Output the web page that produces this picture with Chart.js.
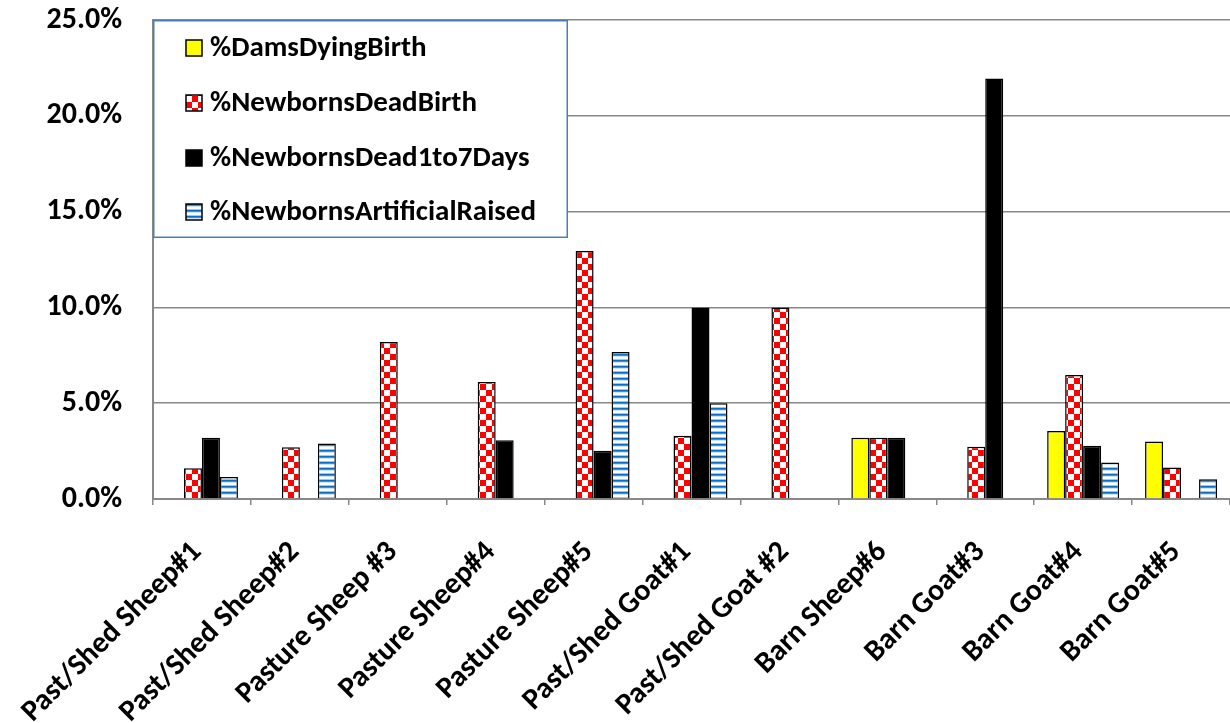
<!DOCTYPE html>
<html><head><meta charset="utf-8">
<script src="https://cdn.jsdelivr.net/npm/chart.js@4.4.1/dist/chart.umd.min.js"></script>
<style>html,body{margin:0;padding:0;background:#fff}#wrap{width:1230px;height:723px}</style>
</head><body><div id="wrap"><canvas id="c" width="1230" height="723"></canvas></div>
<script>
const categories = ["Past/Shed Sheep#1","Past/Shed Sheep#2","Pasture Sheep #3","Pasture Sheep#4","Pasture Sheep#5","Past/Shed Goat#1","Past/Shed Goat #2","Barn Sheep#6","Barn Goat#3","Barn Goat#4","Barn Goat#5"];
const seriesNames = ["%DamsDyingBirth","%NewbornsDeadBirth","%NewbornsDead1to7Days","%NewbornsArtificialRaised"];
const damsDyingBirth = [null,null,null,null,null,null,null,3.2,null,3.55,3.0];
const newbornsDeadBirth = [1.6,2.7,8.2,6.1,12.95,3.3,10.0,3.2,2.73,6.47,1.65];
const newbornsDead1to7Days = [3.2,null,null,3.07,2.52,10.0,null,3.2,21.95,2.78,null];
const newbornsArtificialRaised = [1.15,2.9,null,null,7.67,5.0,null,null,null,1.9,1.03];
const yTicks = [0,5,10,15,20,25];

const FONT = "Carlito, Lato, 'Open Sans', sans-serif";

function checker(){
  const c=document.createElement('canvas');c.width=12;c.height=12;
  const x=c.getContext('2d');x.fillStyle='#fff';x.fillRect(0,0,12,12);
  x.fillStyle='#ff0000';x.fillRect(0,0,6,6);x.fillRect(6,6,6,6);
  return x.createPattern(c,'repeat');
}
function stripes(){
  const c=document.createElement('canvas');c.width=6;c.height=6;
  const x=c.getContext('2d');
  const rows=['#0a6fc2','#3f8fd2','#cfe3f4','#ffffff','#ffffff','#9cc6ea'];
  rows.forEach((col,i)=>{x.fillStyle=col;x.fillRect(0,i,6,1);});
  return x.createPattern(c,'repeat');
}
const fills=['#ffff00',checker(),'#000000',stripes()];

const legendBox={
  id:'legendBox',
  afterDraw(chart){
    const ctx=chart.ctx;ctx.save();
    const x0=153,y0=20,w=415,h=218;
    ctx.fillStyle='#fff';ctx.fillRect(x0,y0,w,h);
    ctx.strokeStyle='#4a7ebb';ctx.lineWidth=1.5;ctx.strokeRect(x0+0.75,y0+0.75,w-1.5,h-1.5);
    const rows=[48,103,158,212];
    chart.data.datasets.forEach((ds,i)=>{
      const cy=rows[i];
      ctx.fillStyle=ds.backgroundColor;
      ctx.fillRect(186,cy-8,16,16);
      ctx.strokeStyle='#000';ctx.lineWidth=1.5;ctx.strokeRect(186,cy-8,16,16);
      ctx.fillStyle='#000';ctx.font="bold 29px "+FONT;ctx.textBaseline='middle';ctx.textAlign='left';
      ctx.fillText(ds.label,210,cy+1);
    });
    ctx.restore();
  }
};

const datasets=[damsDyingBirth,newbornsDeadBirth,newbornsDead1to7Days,newbornsArtificialRaised].map((d,i)=>({
  label:seriesNames[i],data:d,backgroundColor:fills[i],borderColor:'#000',borderWidth:1.5,
  categoryPercentage:0.735,barPercentage:1.0
}));

new Chart(document.getElementById('c'),{
  type:'bar',
  data:{labels:categories,datasets},
  options:{
    responsive:false,animation:false,
    layout:{padding:{top:20,right:0,left:0,bottom:0}},
    plugins:{legend:{display:false},tooltip:{enabled:false}},
    scales:{
      x:{
        grid:{display:true,drawOnChartArea:false,drawTicks:true,tickLength:6,offset:true,color:'#888',lineWidth:1.5},
        border:{display:true,color:'#888',width:2},
        ticks:{minRotation:45,maxRotation:45,autoSkip:false,color:'#000',padding:25,font:{family:FONT,size:30,weight:'bold'},
          callback:(v,i)=>categories[i]+' '},
        afterFit(s){s.height=224;s.paddingLeft=0;s.paddingRight=0;s.paddingTop=0;s.paddingBottom=0;}
      },
      y:{
        min:0,max:25,
        afterBuildTicks(s){s.ticks=yTicks.map(v=>({value:v}));},
        grid:{color:'#888',lineWidth:1.5,drawTicks:false},
        border:{display:true,color:'#888',width:2},
        ticks:{color:'#000',padding:31,font:{family:FONT,size:30,weight:'bold'},callback:v=>v.toFixed(1)+'%'},
        afterFit(s){s.width=153;s.paddingTop=0;s.paddingBottom=0;s.paddingLeft=0;s.paddingRight=0;}
      }
    }
  },
  plugins:[legendBox]
});
</script></body></html>
